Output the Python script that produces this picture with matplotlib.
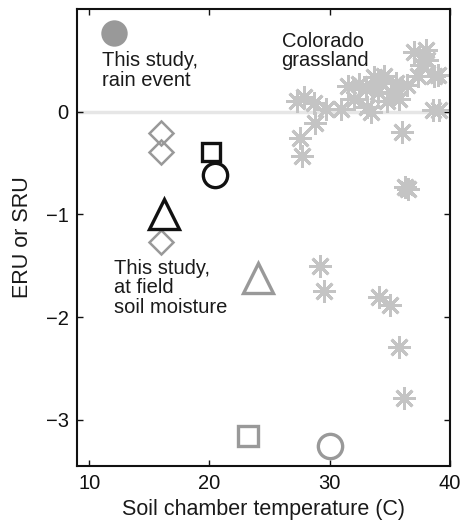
import matplotlib
matplotlib.use("Agg")
import matplotlib.pyplot as plt

plt.rcParams['font.family'] = ['Liberation Sans', 'DejaVu Sans']

# Colorado grassland (asterisks)
colo_x = [27.3, 27.9, 28.7, 29.7, 30.9, 28.8, 27.5, 27.7, 31.5, 32.4, 33.1, 33.4,
          33.7, 34.0, 34.5, 34.8, 35.1, 35.5, 36.4, 37.0, 37.3, 38.0, 38.1, 38.7,
          38.6, 39.1, 36.0, 36.3, 36.5, 29.2, 29.5, 34.1, 35.0, 35.75, 36.2,
          32.0, 33.0, 35.8, 37.6, 34.2, 39.0]
colo_y = [0.10, 0.14, 0.08, 0.03, 0.03, -0.11, -0.26, -0.43, 0.25, 0.27, 0.05, 0.00,
          0.34, 0.19, 0.35, 0.10, 0.18, 0.28, 0.26, 0.58, 0.35, 0.60, 0.50, 0.35,
          0.02, 0.02, -0.20, -0.73, -0.75, -1.50, -1.75, -1.80, -1.88, -2.29, -2.79,
          0.12, 0.22, 0.12, 0.45, 0.30, 0.36]

# This study, field soil moisture (diamonds)
diam_x = [16.0, 16.0, 16.0]
diam_y = [-0.21, -0.39, -1.27]

# Black markers
btri_x, btri_y = [16.2], [-1.0]
bsq_x, bsq_y = [20.1], [-0.39]
bcirc_x, bcirc_y = [20.5], [-0.62]

# Gray markers
gtri_x, gtri_y = [24.0], [-1.62]
gsq_x, gsq_y = [23.2], [-3.16]
gcirc_x, gcirc_y = [30.0], [-3.25]

# Rain event
rain_x, rain_y = [12.1], [0.77]

fig = plt.figure(figsize=(4.62, 5.29), dpi=100)
ax = fig.add_axes([0.167, 0.119, 0.807, 0.864])

gray = '#999999'
light = '#c4c4c4'

ax.axhline(0, color='#e6e6e6', lw=2.5, zorder=0)

ax.plot(colo_x, colo_y, ls='none', marker=(8, 2, 0), ms=16, mew=2.1,
        color=light, zorder=2)
ax.plot(diam_x, diam_y, ls='none', marker='D', ms=12.5, mew=1.8,
        mfc='none', mec=gray, zorder=3)
ax.plot(btri_x, btri_y, ls='none', marker='^', ms=21, mew=2.4,
        mfc='none', mec='#111111', zorder=3)
ax.plot(bsq_x, bsq_y, ls='none', marker='s', ms=13.5, mew=2.4,
        mfc='none', mec='#111111', zorder=3)
ax.plot(bcirc_x, bcirc_y, ls='none', marker='o', ms=17.5, mew=2.4,
        mfc='none', mec='#111111', zorder=4)
ax.plot(gtri_x, gtri_y, ls='none', marker='^', ms=21, mew=2.4,
        mfc='none', mec=gray, zorder=3)
ax.plot(gsq_x, gsq_y, ls='none', marker='s', ms=14, mew=2.4,
        mfc='none', mec=gray, zorder=3)
ax.plot(gcirc_x, gcirc_y, ls='none', marker='o', ms=17.5, mew=2.4,
        mfc='none', mec=gray, zorder=3)
ax.plot(rain_x, rain_y, ls='none', marker='o', ms=19, mew=0,
        mfc=gray, zorder=3)

tc = '#1a1a1a'
fs = 14.5
ax.text(11.05, 0.59, 'This study,\nrain event', fontsize=fs, color=tc,
        va='top', ha='left', linespacing=1.05)
ax.text(26.0, 0.78, 'Colorado\ngrassland', fontsize=fs, color=tc,
        va='top', ha='left', linespacing=1.05)
ax.text(12.1, -1.43, 'This study,\nat field\nsoil moisture', fontsize=fs,
        color=tc, va='top', ha='left', linespacing=1.05)

ax.set_xlim(9, 40)
ax.set_ylim(-3.45, 1.0)
ax.set_xticks([10, 20, 30, 40])
ax.set_yticks([0, -1, -2, -3])
ax.set_yticklabels(['0', '\u22121', '\u22122', '\u22123'])
ax.tick_params(direction='in', top=True, right=True, length=4, width=1,
               labelsize=fs, colors='#111111', pad=6)
for s in ax.spines.values():
    s.set_linewidth(1.5)
    s.set_color('#111111')

ax.set_xlabel('Soil chamber temperature (C)', fontsize=15.5, color=tc, labelpad=4)
ax.set_ylabel('ERU or SRU', fontsize=15.5, color=tc, labelpad=9)

fig.savefig('out.png', dpi=100)
